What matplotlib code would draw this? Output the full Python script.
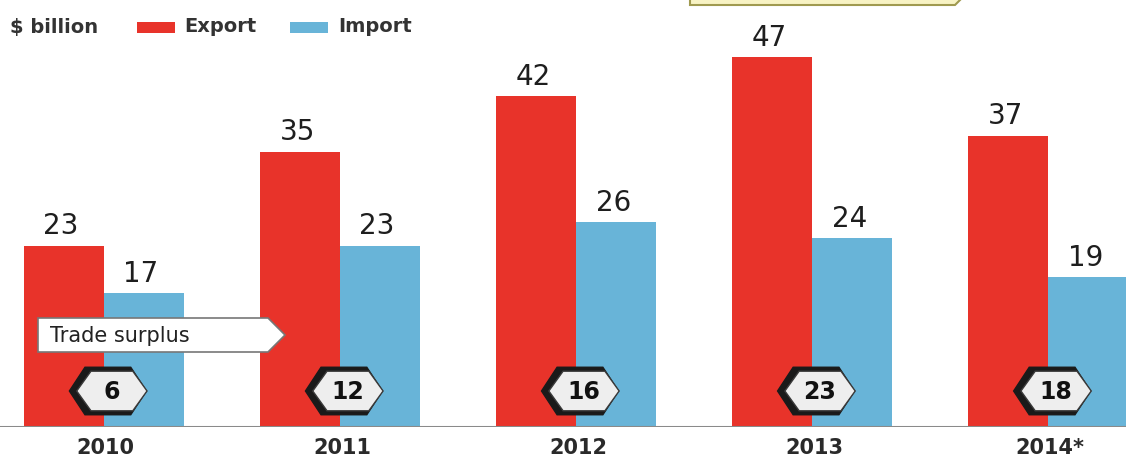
import matplotlib.pyplot as plt
from matplotlib.patches import Polygon, Rectangle

years = ['2010', '2011', '2012', '2013', '2014*']
export = [23, 35, 42, 47, 37]
imports = [17, 23, 26, 24, 19]
surplus = [6, 12, 16, 23, 18]

RED = '#e8332a'
BLUE = '#68b4d8'
W, H = 1126, 463

fig = plt.figure(figsize=(W / 100, H / 100), dpi=100)
ax = fig.add_axes([0, (H - 427) / H, 1, 427 / H])

x = list(range(len(years)))
bw = 0.339
ax.bar([i - bw / 2 for i in x], export, width=bw, color=RED, zorder=2)
ax.bar([i + bw / 2 for i in x], imports, width=bw, color=BLUE, zorder=2)

for i in x:
    ax.annotate(str(export[i]), (i - bw / 2, export[i]), xytext=(-2, 4),
                textcoords='offset points', ha='center', va='bottom',
                fontsize=20, color='#1e1e1e')
    ax.annotate(str(imports[i]), (i + bw / 2, imports[i]), xytext=(-2, 4),
                textcoords='offset points', ha='center', va='bottom',
                fontsize=20, color='#1e1e1e')

ax.set_xlim(-0.44, 4.33)
ax.set_ylim(0, 54.26)
ax.axis('off')
ax.axhline(0, color='#8a8a8a', lw=2.2, zorder=3)


def px(xp, yp):
    return (xp / W, 1 - yp / H)


# hexagon badges with trade surplus
for i in x:
    cx = ax.transData.transform((i, 0))[0] + 7
    cy = 391
    hw, hh, ins = 37, 22, 15
    shape = [(-hw, 0), (-hw + ins, -hh), (hw - ins, -hh), (hw, 0),
             (hw - ins, hh), (-hw + ins, hh)]
    shadow = Polygon([px(cx + dx * 1.04 - 3, cy + dy * 1.08) for dx, dy in shape],
                     closed=True, transform=fig.transFigure,
                     facecolor='#1a1a1a', edgecolor='#1a1a1a', lw=1.0, zorder=5)
    face = Polygon([px(cx + dx * 0.95 + 1, cy + dy * 0.9) for dx, dy in shape],
                   closed=True, transform=fig.transFigure,
                   facecolor='#eeeeee', edgecolor='#3a3a3a', lw=1.0, zorder=6)
    fig.add_artist(shadow)
    fig.add_artist(face)
    fig.text(*px(cx + 1, cy + 1), str(surplus[i]), ha='center', va='center',
             fontsize=17, fontweight='bold', color='#111111', zorder=7)

# year labels
for i in x:
    cx = ax.transData.transform((i, 0))[0]
    fig.text(*px(cx + 2, 448), years[i], ha='center', va='center',
             fontsize=15, fontweight='bold', color='#2a2a2a')

# "Trade surplus" arrow box
box = [(38, 318), (268, 318), (285, 335), (268, 352), (38, 352)]
fig.add_artist(Polygon([px(a, b) for a, b in box], closed=True,
                       transform=fig.transFigure, facecolor='white',
                       edgecolor='#777777', lw=1.2, zorder=6))
fig.text(*px(50, 336), 'Trade surplus', ha='left', va='center',
         fontsize=15, color='#222222', zorder=7)

# legend line
fig.text(*px(10, 27), '$ billion', ha='left', va='center',
         fontsize=14, fontweight='bold', color='#333333')
fig.add_artist(Rectangle(px(137, 33), 38 / W, 11 / H, transform=fig.transFigure,
                         facecolor=RED, edgecolor='none'))
fig.text(*px(184, 27), 'Export', ha='left', va='center',
         fontsize=14, fontweight='bold', color='#333333')
fig.add_artist(Rectangle(px(290, 33), 38 / W, 11 / H, transform=fig.transFigure,
                         facecolor=BLUE, edgecolor='none'))
fig.text(*px(338, 27), 'Import', ha='left', va='center',
         fontsize=14, fontweight='bold', color='#333333')

# cut-off yellow callout box at the top
ybox = [(690, -20), (690, 5), (955, 5), (968, -8), (955, -20)]
fig.add_artist(Polygon([px(a, b) for a, b in ybox], closed=True,
                       transform=fig.transFigure, facecolor='#f8f3c4',
                       edgecolor='#a09a50', lw=1.5, zorder=4))

fig.savefig('out.png', dpi=100)
